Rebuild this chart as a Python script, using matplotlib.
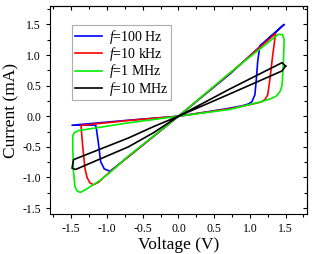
import matplotlib
matplotlib.use("Agg")
import matplotlib.pyplot as plt
from matplotlib.ticker import MultipleLocator

plt.rcParams['font.family'] = ['Liberation Serif', 'DejaVu Serif']
plt.rcParams['mathtext.fontset'] = 'custom'
plt.rcParams['mathtext.rm'] = 'Liberation Serif'
plt.rcParams['mathtext.it'] = 'Liberation Serif:italic'
plt.rcParams['axes.unicode_minus'] = False

labels = [r'$f$=100 Hz', r'$f$=10 kHz', r'$f$=1 MHz', r'$f$=10 MHz']
colors = ['#0000ff', '#ff0000', '#00f000', '#000000']

# f = 100 Hz
v_100hz = [0, 0.45, 0.71, 0.89, 0.98, 1.03, 1.07, 1.09, 1.11, 1.14, 1.48, 0.71, 0,
           -0.7, -0.96, -1.04, -1.09, -1.12, -1.15, -1.16, -1.49, -0.7, 0]
i_100hz = [0, 0.08, 0.13, 0.17, 0.20, 0.24, 0.35, 0.6, 0.9, 1.15, 1.50, 0.68, 0,
           -0.66, -0.90, -0.86, -0.74, -0.45, -0.20, -0.145, -0.147, -0.065, 0]

# f = 10 kHz
v_10khz = [0, 0.71, 1.0, 1.15, 1.21, 1.25, 1.28, 1.32, 1.36, 0.71, 0,
           -0.7, -1.0, -1.12, -1.19, -1.24, -1.28, -1.31, -1.34, -1.365, -0.7, 0]
i_10khz = [0, 0.12, 0.19, 0.23, 0.27, 0.35, 0.6, 1.0, 1.35, 0.69, 0,
           -0.66, -0.95, -1.08, -1.12, -1.09, -1.0, -0.85, -0.5, -0.15, -0.07, 0]

# f = 1 MHz
v_1mhz = [0, 0.71, 1.17, 1.30, 1.37, 1.42, 1.45, 1.47, 1.48, 1.46, 1.40, 0.71, 0,
          -0.7, -0.96, -1.10, -1.30, -1.375, -1.42, -1.45, -1.47, -1.48, -1.48, -1.46, -1.40, -0.7, 0]
i_1mhz = [0, 0.11, 0.24, 0.29, 0.33, 0.40, 0.5, 0.9, 1.25, 1.33, 1.34, 0.70, 0,
          -0.65, -0.92, -1.05, -1.20, -1.245, -1.22, -1.15, -0.9, -0.5, -0.32, -0.27, -0.235, -0.108, 0]

# f = 10 MHz
v_10mhz = [1.50, 1.45, 0.71, 0, -0.35, -0.7, -1.44, -1.49, -1.47, -0.7, -0.35, 0, 0.71, 1.45, 1.50]
i_10mhz = [0.82, 0.875, 0.44, 0, -0.27, -0.50, -0.87, -0.85, -0.71, -0.355, -0.17, 0, 0.36, 0.74, 0.82]

series = [(v_100hz, i_100hz), (v_10khz, i_10khz), (v_1mhz, i_1mhz), (v_10mhz, i_10mhz)]

fig = plt.figure(figsize=(3.12, 2.54), dpi=100)
ax = fig.add_axes([0.160, 0.157, 0.824, 0.819])

for (v, i), c, lab in zip(series, colors, labels):
    ax.plot(v, i, color=c, lw=1.2, label=lab, solid_joinstyle='round')

ax.set_xlim(-1.8, 1.8)
ax.set_ylim(-1.6, 1.8)
ax.xaxis.set_minor_locator(MultipleLocator(0.25))
ax.yaxis.set_minor_locator(MultipleLocator(0.25))
ax.set_xticks([-1.5, -1.0, -0.5, 0.0, 0.5, 1.0, 1.5])
ax.set_xticklabels(['-1.5', '-1.0', '-0.5', '0.0', '0.5', '1.0', '1.5'])
ax.set_yticks([-1.5, -1.0, -0.5, 0.0, 0.5, 1.0, 1.5])
ax.set_yticklabels(['-1.5', '-1.0', '-0.5', '0.0', '0.5', '1.0', '1.5'])

ax.tick_params(axis='both', which='both', labelsize=8.5, width=0.8)
ax.tick_params(axis='both', which='major', length=3)
ax.tick_params(axis='both', which='minor', length=2.5)
ax.tick_params(axis='x', which='both', direction='out', top=False)
ax.tick_params(axis='y', which='both', direction='out', right=False)
# inward ticks on top and right
axt = ax.secondary_xaxis('top')
axt.xaxis.set_major_locator(MultipleLocator(0.5))
axt.xaxis.set_minor_locator(MultipleLocator(0.25))
axt.tick_params(which='both', direction='in', labeltop=False, width=0.8)
axt.tick_params(which='major', length=3)
axt.tick_params(which='minor', length=2.5)
axr = ax.secondary_yaxis('right')
axr.yaxis.set_major_locator(MultipleLocator(0.5))
axr.yaxis.set_minor_locator(MultipleLocator(0.25))
axr.tick_params(which='both', direction='in', labelright=False, width=0.8)
axr.tick_params(which='major', length=3)
axr.tick_params(which='minor', length=2.5)

for s in ax.spines.values():
    s.set_linewidth(0.8)

ax.set_xlabel('Voltage (V)', fontsize=12.5, labelpad=1)
ax.set_ylabel('Current (mA)', fontsize=12.5, labelpad=2)

leg = ax.legend(loc='upper left', bbox_to_anchor=(0.086, 0.909), borderaxespad=0,
                fontsize=10, frameon=True, fancybox=False, handlelength=1.95,
                handletextpad=0.5, labelspacing=-0.05, borderpad=0.2)
leg.get_frame().set_edgecolor('#999999')
leg.get_frame().set_linewidth(0.8)

fig.savefig('out.png', dpi=100)
